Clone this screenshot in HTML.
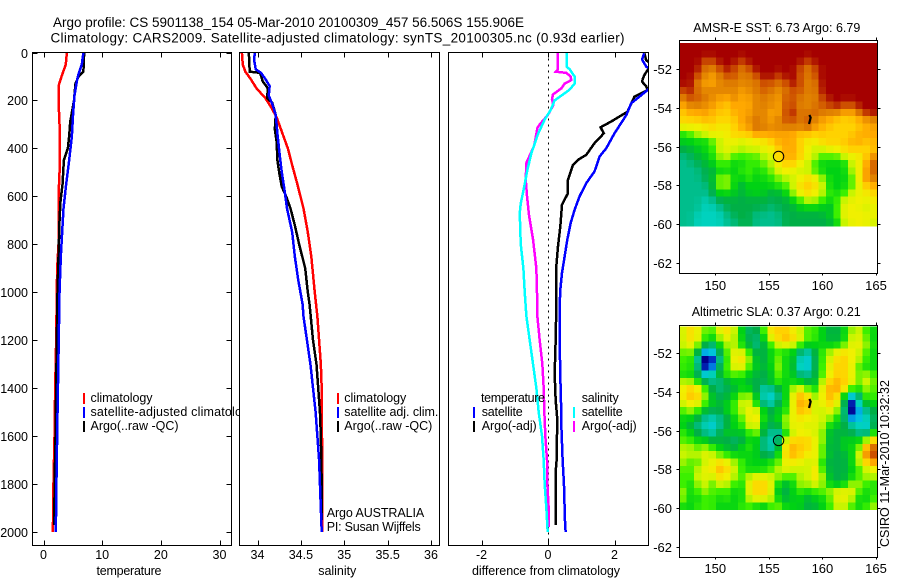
<!DOCTYPE html>
<html>
<head>
<meta charset="utf-8">
<title>Argo profile</title>
<style>
html,body{margin:0;padding:0;background:#fff;}
svg{display:block;font-family:"Liberation Sans",sans-serif;font-size:12.5px;fill:#000;}
.axis{fill:none;stroke:#000;stroke-width:1;shape-rendering:crispEdges;}
.tick{stroke:#000;stroke-width:1;shape-rendering:crispEdges;}
.prof{fill:none;stroke-width:2.5;stroke-linejoin:miter;shape-rendering:crispEdges;}
.cell{shape-rendering:crispEdges;}
.bar{shape-rendering:crispEdges;}
</style>
</head>
<body>
<svg id="chart" xmlns="http://www.w3.org/2000/svg" width="900" height="580" viewBox="0 0 900 580">
<defs>
<clipPath id="clip-t"><rect x="32" y="52" width="200" height="494"/></clipPath>
<clipPath id="clip-s"><rect x="239" y="52" width="201" height="494"/></clipPath>
<clipPath id="clip-d"><rect x="448" y="52" width="201" height="494"/></clipPath>
</defs>
<rect width="900" height="580" fill="#fff"/>
<text x="53" y="27" font-size="13.5" textLength="471">Argo profile: CS 5901138_154 05-Mar-2010 20100309_457 56.506S 155.906E</text>
<text x="50.5" y="42.5" font-size="13.5" textLength="574">Climatology: CARS2009. Satellite-adjusted climatology: synTS_20100305.nc (0.93d earlier)</text>

<g id="panel-t"></g>
<g>
<rect class="bar" x="83" y="393" width="2" height="11" fill="#f00"/>
<rect class="bar" x="83" y="407" width="2" height="11" fill="#00f"/>
<rect class="bar" x="83" y="421" width="2" height="11" fill="#000"/>
<text x="90.5" y="402" textLength="62">climatology</text>
<text x="90.5" y="416" textLength="165">satellite-adjusted climatology</text>
<text x="90.5" y="430" textLength="88">Argo(..raw -QC)</text>
</g>

<rect x="239" y="50" width="201" height="498" fill="#fff"/>
<g id="panel-s"></g>
<g>
<rect class="bar" x="337" y="393" width="2" height="11" fill="#f00"/>
<rect class="bar" x="337" y="407" width="2" height="11" fill="#00f"/>
<rect class="bar" x="337" y="421" width="2" height="11" fill="#000"/>
<text x="344.3" y="402" textLength="62">climatology</text>
<text x="344.3" y="416" textLength="94">satellite adj. clim.</text>
<text x="344.3" y="430" textLength="88">Argo(..raw -QC)</text>
<text x="326.7" y="517" textLength="97.5">Argo AUSTRALIA</text>
<text x="326.7" y="531" textLength="94">PI: Susan Wijffels</text>
</g>

<g id="panel-d"></g>
<g>
<text x="481" y="402" textLength="64">temperature</text>
<rect class="bar" x="473" y="407" width="2" height="11" fill="#00f"/>
<rect class="bar" x="473" y="421" width="2" height="11" fill="#000"/>
<text x="481.7" y="416" textLength="41">satellite</text>
<text x="481.7" y="430" textLength="55">Argo(-adj)</text>
<text x="581.7" y="402" textLength="37">salinity</text>
<rect class="bar" x="573" y="407" width="2" height="11" fill="#0ff"/>
<rect class="bar" x="573" y="421" width="2" height="11" fill="#f0f"/>
<text x="581.7" y="416" textLength="41">satellite</text>
<text x="581.7" y="430" textLength="55">Argo(-adj)</text>
</g>

<text x="129" y="575" text-anchor="middle" textLength="65">temperature</text>
<text x="337.3" y="575" text-anchor="middle" textLength="38">salinity</text>
<text x="546" y="575" text-anchor="middle" textLength="148">difference from climatology</text>

<text x="693.3" y="32" textLength="167">AMSR-E SST: 6.73 Argo: 6.79</text>
<g id="map-sst"></g>
<text x="691.7" y="316" textLength="169">Altimetric SLA: 0.37 Argo: 0.21</text>
<g id="map-sla"></g>
<text transform="translate(889,547) rotate(-90)" textLength="167">CSIRO 11-Mar-2010 10:32:32</text>
</svg>

<script>
// ---------- profile axis ticks ----------
var depthTicks = [0,200,400,600,800,1000,1200,1400,1600,1800,2000];
var tempTicks = [0,10,20,30];
var salTicks = [34,34.5,35,35.5,36];
var salTickLabels = ['34','34.5','35','35.5','36'];
var diffTicks = [-2,0,2];
var lonTicks = [150,155,160,165];
var latTicks = [-52,-54,-56,-58,-60,-62];

// ---------- temperature panel ----------
var tClimDepth = [0,50,100,140,200,300,400,500,600,800,900,1000,1200,1400,1600,1800,2000];
var tClimValue = [3.98,3.8,3.07,2.56,2.56,2.73,2.73,2.73,2.56,2.56,2.33,2.27,2.16,1.99,1.88,1.7,1.6];
var tSatDepth = [0,50,90,120,180,250,350,450,550,650,750,850,1000,1200,1500,1800,2000];
var tSatValue = [6.8,6.53,5.97,5.68,5.28,5.06,4.83,4.37,3.86,3.41,3.18,2.95,2.73,2.6,2.39,2.2,2.1];
var tArgoDepth = [0,80,100,130,200,290,350,400,450,550,620,700,850,1000,1200,1400,1600,1750,1970];
var tArgoValue = [6.93,6.8,5.97,5.45,5.2,4.55,4.37,4.15,3.47,3.24,2.9,2.73,2.56,2.39,2.27,2.16,2.05,1.93,1.82];

// ---------- salinity panel ----------
var sClimDepth = [0,50,80,110,150,190,230,270,320,400,470,550,650,750,850,1000,1100,1200,1300,1400,1500,1650,2000];
var sClimValue = [33.82,33.83,33.86,33.92,33.99,34.09,34.16,34.22,34.27,34.35,34.4,34.46,34.53,34.58,34.62,34.66,34.69,34.71,34.73,34.74,34.74,34.745,34.745];
var sArgoDepth = [0,80,85,120,150,190,210,260,320,370,450,500,560,600,650,720,800,900,1000,1050,1200,1300,1400,1500,1600,1800,1950];
var sArgoValue = [33.9,33.91,34.03,34.06,34.12,34.11,34.17,34.21,34.2,34.22,34.23,34.25,34.28,34.33,34.38,34.43,34.48,34.55,34.58,34.6,34.64,34.68,34.7,34.72,34.73,34.74,34.74];
var sSatDepth = [0,30,70,85,110,140,180,215,260,340,440,500,570,650,750,850,950,1050,1100,1200,1300,1400,1500,1600,1700,1800,2000];
var sSatValue = [33.97,33.96,33.98,34.04,34.09,34.14,34.13,34.17,34.21,34.23,34.26,34.28,34.31,34.34,34.4,34.43,34.47,34.52,34.53,34.57,34.61,34.64,34.67,34.69,34.71,34.72,34.74];

// ---------- difference panel ----------
var dTempArgoDepth = [3,31,50,94,110,122,140,156,184,247,288,312,337,378,427,448,469,531,587,635,726,809,892,1059,1200,1340,1450,1530,1600,1700,1750,1970];
var dTempArgoValue = [2.9,2.95,3.1,2.9,2.85,2.83,2.95,3.0,2.6,2.39,1.9,1.58,1.68,1.4,1.15,0.9,0.75,0.6,0.6,0.42,0.37,0.3,0.25,0.25,0.23,0.2,0.23,0.28,0.27,0.26,0.23,0.23];
var dTempSatDepth = [3,30,60,90,156,212,260,337,400,434,496,545,600,656,712,781,851,920,990,1059,1200,1350,1450,1550,1700,1800,1950,2000];
var dTempSatValue = [2.89,2.83,2.96,3.4,3.0,2.5,2.36,2.0,1.75,1.55,1.4,1.15,0.95,0.8,0.68,0.58,0.5,0.42,0.37,0.35,0.35,0.37,0.39,0.4,0.44,0.48,0.51,0.53];
var dSalSatDepth = [0,60,70,100,130,155,185,200,240,280,340,420,490,570,630,670,800,900,1000,1100,1200,1300,1400,1500,1600,1700,1800,1900,2000];
var dSalSatValue = [0.57,0.57,0.65,0.8,0.8,0.65,0.35,0.2,0.08,-0.1,-0.3,-0.5,-0.62,-0.73,-0.82,-0.85,-0.82,-0.74,-0.7,-0.65,-0.55,-0.45,-0.35,-0.28,-0.18,-0.13,-0.1,-0.05,-0.01];
var dSalArgoDepth = [0,70,80,85,100,115,130,150,175,195,220,260,300,315,340,390,460,530,600,680,780,900,1060,1100,1200,1300,1400,1500,1600,1700,1800,1900,1980];
var dSalArgoValue = [0.3,0.3,0.23,0.55,0.68,0.7,0.5,0.4,0.15,0.12,0.16,0,-0.25,-0.32,-0.35,-0.42,-0.65,-0.67,-0.63,-0.57,-0.45,-0.35,-0.32,-0.32,-0.25,-0.17,-0.13,-0.11,-0.08,-0.03,-0.02,0.02,0.02];

// ---------- map data: colour level per grid cell (row = north to south) ----------
var sstLevels = [
[11,11,11,11,11,11,11,11,11,11,11,11,11,11,11,11,11,11,11,11,11,11,11,11,11,11,11],
[11,11,11,11,11,11,11,11,11,11,11,11,11,11,11,11,11,11,11,11,11,11,11,11,11,11,11],
[11,11,11,10,10,11,11,11,10,11,11,11,11,11,11,11,11,10,11,11,11,11,11,11,11,11,11],
[11,11,11,9,9,10,11,10,9,10,11,11,11,11,11,11,10,9,10,11,11,11,11,11,11,11,11],
[11,11,10,9,8,9,10,10,9,9,10,11,11,10,11,11,10,9,10,11,11,11,11,11,11,11,11],
[11,11,9,8,8,9,9,9,9,9,9,10,10,9,10,11,10,9,9,11,11,11,11,11,11,11,11],
[10,11,9,9,9,9,9,9,8,9,9,10,9,9,9,10,10,9,9,11,11,11,11,11,11,11,11],
[9,10,10,9,9,8,8,9,8,8,9,9,9,8,10,10,9,9,9,10,11,11,11,11,11,11,11],
[8,9,9,9,8,8,7,8,8,8,9,9,9,8,10,10,9,9,9,10,10,11,10,10,11,11,11],
[7,8,8,8,8,7,7,8,8,8,9,9,8,8,10,11,9,9,10,9,9,9,8,8,9,11,11],
[7,7,7,8,7,7,7,7,8,9,9,9,8,9,10,10,9,10,9,8,8,7,7,7,8,8,9],
[6,6,6,6,7,6,6,7,8,8,10,9,9,9,9,9,9,10,8,8,7,7,7,7,7,8,8],
[3,4,5,5,6,6,6,7,7,7,8,8,8,8,8,8,7,7,7,7,7,7,7,7,8,8,8],
[3,3,3,3,4,5,6,6,5,6,6,6,7,8,8,8,7,6,6,7,7,7,7,8,8,7,8],
[2,2,3,3,4,5,6,5,5,5,5,6,6,7,8,8,7,6,5,5,6,6,7,7,7,7,7],
[1,2,2,3,3,5,5,4,4,4,4,5,5,7,8,8,7,6,5,4,4,4,5,6,6,7,9],
[1,1,2,2,3,4,4,3,3,4,4,4,5,6,7,7,6,5,4,3,3,3,3,5,6,8,10],
[1,1,1,2,2,3,3,3,4,4,3,4,4,6,6,6,5,5,4,3,3,3,3,5,6,8,10],
[1,1,1,2,2,5,5,3,3,4,3,3,4,4,5,5,6,7,6,5,3,3,3,4,6,9,9],
[1,1,1,1,2,5,5,3,2,3,3,3,3,4,4,5,7,7,7,5,3,3,3,4,6,7,8],
[1,1,1,1,2,3,3,3,2,3,3,3,2,2,3,5,6,7,6,5,4,3,4,5,6,6,7],
[1,1,1,0,1,2,2,2,2,2,2,2,2,2,2,3,4,5,5,4,3,4,5,6,6,6,6],
[1,1,1,0,0,1,2,2,2,2,2,2,1,2,2,2,3,3,3,3,2,4,6,6,6,5,6],
[1,1,0,0,0,0,1,2,2,2,1,1,1,1,2,2,2,2,2,2,3,4,6,6,6,6,6],
[1,1,0,0,0,0,1,1,2,2,1,1,1,1,2,2,2,2,2,2,2,3,5,6,6,6,5]
];
var slaLevels = [
[5,7,6,4,4,6,7,5,3,1,2,4,7,7,7,6,5,4,4,3,2,2,3,5,5,4,3],
[5,7,6,4,3,5,6,5,3,2,1,3,6,7,8,7,6,4,4,3,2,2,3,5,6,4,3],
[5,6,5,2,1,3,5,5,3,2,1,2,4,5,6,5,4,3,3,3,3,3,4,6,6,5,3],
[4,5,2,-2,-1,2,4,6,6,4,2,2,3,4,3,3,1,0,2,4,5,6,7,6,5,4,3],
[4,4,1,-5,-3,1,4,6,7,5,2,2,3,5,3,3,0,-1,2,4,5,7,7,6,5,4,3],
[4,4,2,-4,-2,2,4,6,6,4,3,2,3,5,3,3,-1,-1,2,4,6,7,7,6,4,3,3],
[3,3,2,-1,0,3,4,4,4,3,2,2,2,5,3,3,1,1,2,4,6,7,7,6,4,5,4],
[5,5,3,2,1,1,2,3,3,2,2,2,3,4,3,3,3,2,2,5,7,8,7,6,4,6,4],
[6,7,7,4,2,1,2,2,3,3,2,0,1,2,3,5,6,4,3,6,8,8,7,5,3,5,4],
[6,8,7,5,2,2,2,3,5,5,3,0,-1,1,3,6,8,7,4,6,8,7,3,-3,2,4,4],
[5,6,6,4,3,2,3,4,5,6,3,1,0,2,3,6,8,8,5,6,7,6,2,-4,0,3,3],
[4,5,4,2,2,2,3,4,5,6,6,3,2,3,3,6,8,7,5,5,6,5,2,-5,-1,1,2],
[3,3,2,1,0,1,2,3,4,6,7,3,2,3,5,6,6,6,6,5,5,3,2,-2,-1,0,2],
[3,2,1,0,-1,1,2,3,4,5,6,2,2,2,5,6,6,5,6,5,3,3,2,1,0,-1,2],
[4,3,2,1,0,2,3,3,2,4,5,2,1,0,3,5,6,6,5,5,2,2,2,2,1,0,4],
[4,4,3,3,2,2,2,1,2,3,3,1,0,1,6,7,7,7,6,5,2,2,3,3,3,5,7],
[5,5,4,5,4,3,2,2,3,4,3,1,0,2,7,8,7,7,6,4,2,2,3,3,4,8,10],
[5,5,5,6,5,4,4,3,3,3,3,2,1,3,7,8,7,6,6,5,2,2,2,3,5,9,11],
[5,4,4,5,6,7,6,5,4,3,3,3,4,4,6,6,6,5,6,3,2,2,2,3,5,7,8],
[4,4,5,6,6,8,7,5,4,3,3,3,4,5,6,5,5,5,7,4,2,2,2,3,4,5,6],
[4,4,5,6,5,7,6,5,4,5,6,6,5,5,4,4,5,5,7,5,2,2,2,3,4,5,5],
[4,3,5,5,4,5,5,4,3,6,7,7,6,3,2,3,5,5,5,5,3,2,3,5,5,4,3],
[5,3,4,5,4,4,4,3,3,6,7,7,6,2,2,3,4,3,4,4,5,6,6,6,4,3,4],
[5,3,3,4,4,3,4,3,3,5,6,6,5,3,2,3,3,2,3,3,4,6,6,5,3,3,4],
[3,3,4,4,4,3,3,3,4,4,3,2,4,5,3,3,3,2,2,3,4,5,5,4,3,4,5]
];
var floatLon = 155.906;
var floatLat = -56.506;
var trackLon = [158.75,158.9,158.78];
var trackLat = [-54.83,-54.5,-54.36];

// ---------- helpers ----------
var NS = 'http://www.w3.org/2000/svg';
function mk(parent, tag, attrs, txt){
  var el = document.createElementNS(NS, tag);
  for (var k in attrs) el.setAttribute(k, attrs[k]);
  if (txt !== undefined) el.textContent = txt;
  parent.appendChild(el);
  return el;
}
function scale(d0,d1,p0,p1){ return function(v){ return p0 + (v-d0)*(p1-p0)/(d1-d0); }; }
var yDepth = scale(0,2000,52.5,532);
var xTemp = scale(0,30,43.5,219.5);
var xSal = scale(34,36,257.5,431);
var xDiff = scale(-2,2,481.5,614.5);
var xLon = scale(150,165,715.3,876);
var ySst = scale(-52,-62,69.3,262.7);
var ySla = scale(-52,-62,353.3,546.7);

// continuous colour ramp, level -3 (navy) to 11 (dark red)
function levelColor(l){
  var stops = [[0,0,140],[0,72,220],[0,190,230],[0,210,190],[0,190,140],[0,175,70],[0,210,20],[60,240,0],[200,245,0],[240,240,0],[255,210,0],[255,168,0],[225,130,0],[205,80,0],[165,0,0]];
  var t = Math.max(0,Math.min(14,l+3));
  var i = Math.min(13,Math.floor(t)), f = t-i;
  var a = stops[i], b = stops[i+1];
  return 'rgb('+Math.round(a[0]+(b[0]-a[0])*f)+','+Math.round(a[1]+(b[1]-a[1])*f)+','+Math.round(a[2]+(b[2]-a[2])*f)+')';
}
// gentle neighbour averaging so the map shades like the source image
function softened(levels,r,c){
  var sum = levels[r][c]*3, n = 3;
  [[r-1,c],[r+1,c],[r,c-1],[r,c+1]].forEach(function(p){
    if (levels[p[0]] !== undefined && levels[p[0]][p[1]] !== undefined){ sum += levels[p[0]][p[1]]; n += 1; }
  });
  return sum/n;
}

function drawFrame(g, left, right, top, bottom, xs, xVals, xLabels, withDepthLabels){
  var frame = mk(g,'rect',{'class':'axis',x:left,y:top,width:right-left,height:bottom-top});
  
  
  xVals.forEach(function(v,i){
    var px = Math.round(xs(v))+0.5;
    var t1 = mk(g,'line',{'class':'tick',x1:px,x2:px,y1:top,y2:top+5});
    
    
    var t2 = mk(g,'line',{'class':'tick',x1:px,x2:px,y1:bottom,y2:bottom-5});
    
    
    var lb = mk(g,'text',{x:xs(v),y:559,'text-anchor':'middle'},xLabels[i]);
    
    
  });
  if (withDepthLabels){
    depthTicks.forEach(function(d){
      var py = Math.round(yDepth(d))+0.5;
      var a = mk(g,'line',{'class':'tick',x1:left,x2:left+5,y1:py,y2:py});
      
      
      var b = mk(g,'line',{'class':'tick',x1:right,x2:right-5,y1:py,y2:py});
      
      
      var lb = mk(g,'text',{x:28,y:py+4.5,'text-anchor':'end'},String(d));
      
      
    });
  }
}
function drawProfile(g, xs, depths, values, color, clip){
  var pts = depths.map(function(d,i){ return xs(values[i]).toFixed(2)+','+yDepth(d).toFixed(2); }).join(' ');
  var line = mk(g,'polyline',{'class':'prof',points:pts,stroke:color,'clip-path':'url(#'+clip+')'});
  
  
}

// ---------- temperature ----------
var gT = document.getElementById('panel-t');
drawProfile(gT,xTemp,tClimDepth,tClimValue,'#f00','clip-t');
drawProfile(gT,xTemp,tArgoDepth,tArgoValue,'#000','clip-t');
drawProfile(gT,xTemp,tSatDepth,tSatValue,'#00f','clip-t');
drawFrame(gT,32.5,231.5,52.5,545.5,xTemp,tempTicks,tempTicks.map(String),true);

// ---------- salinity ----------
var gS = document.getElementById('panel-s');
drawProfile(gS,xSal,sClimDepth,sClimValue,'#f00','clip-s');
drawProfile(gS,xSal,sArgoDepth,sArgoValue,'#000','clip-s');
drawProfile(gS,xSal,sSatDepth,sSatValue,'#00f','clip-s');
drawFrame(gS,239.5,439.5,52.5,545.5,xSal,salTicks,salTickLabels,false);

// ---------- difference ----------
var gD = document.getElementById('panel-d');
var zeroX = Math.round(xDiff(0))+0.5;
var zero = mk(gD,'line',{x1:zeroX,x2:zeroX,y1:yDepth(0),y2:545,stroke:'#000','stroke-width':1,'stroke-dasharray':'2 4','shape-rendering':'crispEdges'});


drawProfile(gD,xDiff,dTempArgoDepth,dTempArgoValue,'#000','clip-d');
drawProfile(gD,xDiff,dTempSatDepth,dTempSatValue,'#00f','clip-d');
drawProfile(gD,xDiff,dSalArgoDepth,dSalArgoValue,'#f0f','clip-d');
drawProfile(gD,xDiff,dSalSatDepth,dSalSatValue,'#0ff','clip-d');
drawFrame(gD,448.5,648.5,52.5,545.5,xDiff,diffTicks,diffTicks.map(String),false);

// ---------- maps ----------
function drawMap(g, levels, yLat, top, bottom, imgTopLat, imgBotLat, lonLabelY){
  var rows = levels.length, cols = levels[0].length;
  var lon0 = 146.64, lon1 = 165.12;
  var dLon = (lon1-lon0)/cols, dLat = (imgTopLat-imgBotLat)/rows;
  levels.forEach(function(row,r){
    row.forEach(function(v,c){
      var x0 = xLon(lon0+c*dLon), x1 = xLon(lon0+(c+1)*dLon);
      var y0 = yLat(imgTopLat-r*dLat), y1 = yLat(imgTopLat-(r+1)*dLat);
      var cell = mk(g,'rect',{'class':'cell',x:x0.toFixed(2),y:y0.toFixed(2),width:(x1-x0+0.4).toFixed(2),height:(y1-y0+0.4).toFixed(2),fill:levelColor(softened(levels,r,c))});
      
      
    });
  });
  var frame = mk(g,'rect',{'class':'axis',x:679.5,y:top,width:198,height:bottom-top});
  
  
  lonTicks.forEach(function(v){
    var px = Math.round(xLon(v))+0.5;
    var a = mk(g,'line',{'class':'tick',x1:px,x2:px,y1:top,y2:top-3});
    
    
    var b = mk(g,'line',{'class':'tick',x1:px,x2:px,y1:bottom,y2:bottom+2});
    
    
    var lb = mk(g,'text',{x:xLon(v),y:lonLabelY,'text-anchor':'middle','font-size':13},String(v));
    
    
  });
  latTicks.forEach(function(v){
    var py = Math.round(yLat(v))+0.5;
    var a = mk(g,'line',{'class':'tick',x1:679.5,x2:676.5,y1:py,y2:py});
    
    
    var b = mk(g,'line',{'class':'tick',x1:877.5,x2:880.5,y1:py,y2:py});
    
    
    var lb = mk(g,'text',{x:672,y:py+4.5,'text-anchor':'end','font-size':13},'-'+Math.abs(v));
    
    
  });
  var pts = trackLon.map(function(lo,i){ return xLon(lo).toFixed(2)+','+yLat(trackLat[i]).toFixed(2); }).join(' ');
  var tr = mk(g,'polyline',{points:pts,fill:'none',stroke:'#000','stroke-width':2.2});
  
  
  var ci = mk(g,'circle',{cx:xLon(floatLon),cy:yLat(floatLat),r:5.2,fill:'none',stroke:'#000','stroke-width':1});
  
  
}
drawMap(document.getElementById('map-sst'),sstLevels,ySst,40.5,273.5,-50.64,-60.1,290);
drawMap(document.getElementById('map-sla'),slaLevels,ySla,325.5,557.5,-50.62,-60.09,573);
</script>
</body>
</html>
